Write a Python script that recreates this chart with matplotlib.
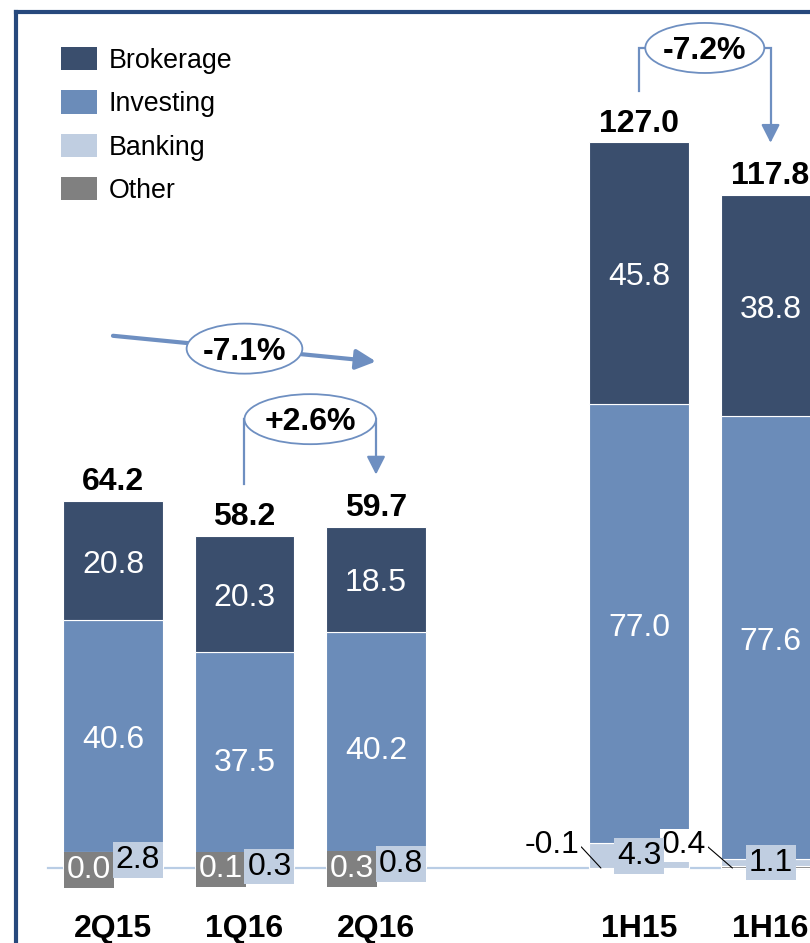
import matplotlib.pyplot as plt
from matplotlib.patches import Ellipse, Patch
from matplotlib.lines import Line2D

plt.rcParams['font.family'] = ['Liberation Sans', 'DejaVu Sans']

# revenue by segment
periods = ['2Q15', '1Q16', '2Q16', '1H15', '1H16']
positions = [0, 1, 2, 4, 5]
brokerage = [20.8, 20.3, 18.5, 45.8, 38.8]
investing = [40.6, 37.5, 40.2, 77.0, 77.6]
banking = [2.8, 0.3, 0.8, 4.3, 1.1]
other = [0.0, 0.1, 0.3, -0.1, 0.4]
totals = [64.2, 58.2, 59.7, 127.0, 117.8]
changes = ['-7.1%', '+2.6%', '-7.2%']

c_brok = '#3A4E6D'
c_inv = '#6B8CB9'
c_bank = '#C0CEE1'
c_other = '#808080'
c_arrow = '#6E8FC1'
c_frame = '#27497D'

fig = plt.figure(figsize=(8.1, 9.43), dpi=100)
ax = fig.add_axes([0, 0, 1, 1])
ax.set_xlim(-0.859, 5.30)
ax.set_ylim(-13.13, 152.0)
ax.axis('off')

w = 0.76
bank_bottom = [max(o, 0) for o in other]
inv_bottom = [b + k for b, k in zip(bank_bottom, banking)]
brok_bottom = [b + i for b, i in zip(inv_bottom, investing)]

ax.axhline(0, xmin=48 / 810, xmax=1, color='#B9CDE5', lw=1.6, zorder=0)

ax.bar(positions, other, w, color=c_other, edgecolor='white', lw=0.8, zorder=2)
ax.bar(positions, banking, w, bottom=bank_bottom, color=c_bank, edgecolor='white', lw=0.8, zorder=2)
ax.bar(positions, investing, w, bottom=inv_bottom, color=c_inv, edgecolor='white', lw=0.8, zorder=2)
ax.bar(positions, brokerage, w, bottom=brok_bottom, color=c_brok, edgecolor='white', lw=0.8, zorder=2)

fs = 23
for i, x in enumerate(positions):
    ax.annotate(f'{brokerage[i]:.1f}', (x, brok_bottom[i] + brokerage[i] / 2), xytext=(0, -4),
                textcoords='offset pixels', color='white', fontsize=fs, ha='center', va='center', zorder=3)
    ax.annotate(f'{investing[i]:.1f}', (x, inv_bottom[i] + investing[i] / 2), xytext=(0, -4),
                textcoords='offset pixels', color='white', fontsize=fs, ha='center', va='center', zorder=3)
    ax.annotate(f'{totals[i]:.1f}', (x, totals[i]), xytext=(0, 4), textcoords='offset pixels',
                ha='center', va='bottom', fontsize=fs, fontweight='bold')
    ax.annotate(periods[i], (x, 0), xytext=(0, -61), textcoords='offset pixels',
                ha='center', va='center', fontsize=fs, fontweight='bold')
    if i < 3:
        ax.text(x - 0.18, other[i] / 2 - 0.3, f'{other[i]:.1f}', color='white', fontsize=fs,
                ha='center', va='center', zorder=4,
                bbox=dict(boxstyle='square,pad=0.09', fc=c_other, ec='none'))
        ax.text(x + 0.19, other[i] + banking[i] / 2, f'{banking[i]:.1f}', color='black', fontsize=fs,
                ha='center', va='center', zorder=5,
                bbox=dict(boxstyle='square,pad=0.09', fc=c_bank, ec='none'))
    else:
        ax.annotate(f'{other[i]:.1f}', (x - w / 2 + 0.09, 0), xytext=(x - 0.66, 4.0),
                    ha='center', va='center', fontsize=fs, zorder=4,
                    bbox=dict(boxstyle='square,pad=0.05', fc='white', ec='none'),
                    arrowprops=dict(arrowstyle='-', lw=0.8, color='black', relpos=(1, 0.5),
                                    shrinkA=0, shrinkB=0))
        ax.text(x, bank_bottom[i] + banking[i] / 2, f'{banking[i]:.1f}', color='black', fontsize=fs,
                ha='center', va='center', zorder=5,
                bbox=dict(boxstyle='square,pad=0.09', fc=c_bank, ec='none'))


def pct_bubble(cx, cy, ew, text):
    ax.add_patch(Ellipse((cx, cy), ew, 8.76, fc='white', ec=c_arrow, lw=1.3, zorder=6))
    ax.annotate(text, (cx, cy), xytext=(0, -3), textcoords='offset pixels', ha='center',
                va='center', fontsize=fs, fontweight='bold', zorder=7)


def bracket(i, j, top, ew, text):
    x0, x1 = positions[i], positions[j]
    y0, y1 = totals[i] + 9.0, totals[j] + 9.2
    ax.plot([x0, x0, x1, x1], [y0, top, top, y1 + 2.5], color=c_arrow, lw=1.6, zorder=5,
            solid_joinstyle='miter')
    ax.annotate('', (x1, y1), xytext=(x1, y1 + 3), zorder=5,
                arrowprops=dict(arrowstyle='-|>,head_length=0.55,head_width=0.28', color=c_arrow,
                                lw=1.6, mutation_scale=20, shrinkA=0, shrinkB=0))
    pct_bubble((x0 + x1) / 2, top, ew, text)


# year-on-year quarter change
ax.annotate('', (positions[2], totals[2] + 29), xytext=(positions[0], totals[0] + 29), zorder=5,
            arrowprops=dict(arrowstyle='-|>,head_length=0.6,head_width=0.3', color=c_arrow,
                            lw=3, mutation_scale=20, shrinkA=0, shrinkB=0))
pct_bubble(1.0, (totals[0] + totals[2]) / 2 + 29, 0.88, changes[0])

bracket(1, 2, 78.6, 1.0, changes[1])
bracket(3, 4, 143.6, 0.905, changes[2])

handles = [Patch(fc=c, ec='none') for c in (c_brok, c_inv, c_bank, c_other)]
fig.legend(handles, ['Brokerage', 'Investing', 'Banking', 'Other'], loc='upper left',
           bbox_to_anchor=(61 / 810, 1 - 47 / 943), frameon=False, fontsize=19.3,
           handlelength=1.34, handleheight=0.97, handletextpad=0.44, labelspacing=0.61,
           borderpad=0, borderaxespad=0)

fig.add_artist(Line2D([16 / 810, 16 / 810], [0, 1 - 12 / 943], color=c_frame, lw=3,
                      transform=fig.transFigure, solid_capstyle='projecting'))
fig.add_artist(Line2D([16 / 810, 1], [1 - 12 / 943, 1 - 12 / 943], color=c_frame, lw=3,
                      transform=fig.transFigure, solid_capstyle='projecting'))

fig.savefig('out.png', dpi=100)
